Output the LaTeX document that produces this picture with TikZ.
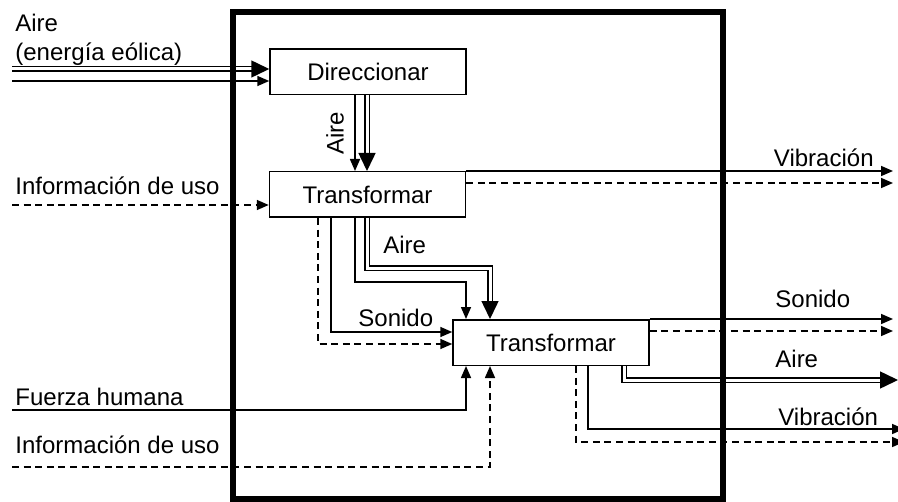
\documentclass[tikz,border=0pt]{standalone}
\usepackage{fontspec}
\setmainfont{Liberation Sans}
\usetikzlibrary{arrows.meta,calc}
\begin{document}
\begin{tikzpicture}[x=0.5pt,y=-0.5pt,
  font=\fontsize{12}{14.4}\selectfont,
  thin/.style={line width=0.8pt},
  dbl/.style={double, double distance=1.5pt, line width=0.75pt},
  tipS/.style={-{Triangle[length=6pt,width=5pt]}},
  tipB/.style={-{Triangle[length=9pt,width=8.5pt]}},
  dsh/.style={dash pattern=on 3.5pt off 2.3pt},
  proc/.style={draw, rectangle, line width=0.75pt, minimum width=98pt, minimum height=22.75pt, inner sep=0pt, fill=white},
  lbl/.style={inner sep=0pt, anchor=base west},
  frame/.style={line width=3pt}]
\useasboundingbox (0,0) rectangle (898,502);

% process boxes
\node[proc] (dir) at (368,72) {Direccionar};
\node[proc] (t1) at (367.5,194.5) {Transformar};
\node[proc] (t2) at (551,342.5) {Transformar};

% inputs to Direccionar
\coordinate (inA) at (12,69);
\coordinate (inB) at (12,81);
\draw[dbl,tipB] (inA) -- (inA -| dir.west);
\draw[thin,tipS] (inB) -- (inB -| dir.west);

% Direccionar -> Transformar 1
\coordinate (d1) at (355,95);
\coordinate (d2) at (367,95);
\draw[thin,tipS] (d1 |- dir.south) -- (d1 |- t1.north);
\draw[dbl,tipB] (d2 |- dir.south) -- (d2 |- t1.north);

% Transformar 1 outputs
\coordinate (vibE) at (893,172);
\coordinate (vibD) at (893,183);
\draw[thin,tipS] (t1.north east) -- (vibE |- t1.north east);
\draw[thin,dsh,tipS] (vibD -| t1.east) -- (vibD);

% information in
\coordinate (info1) at (12,205);
\draw[thin,dsh,tipS] (info1) -- (info1 -| t1.west);

% Transformar 1 -> Transformar 2
\coordinate (c1) at (318,344);
\coordinate (c2) at (331,332);
\coordinate (c3) at (355,282);
\coordinate (c3b) at (466,282);
\coordinate (c4) at (367,268);
\coordinate (c4b) at (490,268);
\draw[thin,dsh,tipS] (c1 |- t1.south) -- (c1) -- (c1 -| t2.west);
\draw[thin,tipS] (c2 |- t1.south) -- (c2) -- (c2 -| t2.west);
\draw[thin,tipS] (c3 |- t1.south) -- (c3) -- (c3b) -- (c3b |- t2.north);
\draw[dbl,tipB] (c4 |- t1.south) -- (c4) -- (c4b) -- (c4b |- t2.north);

% inputs below Transformar 2
\coordinate (f1) at (12,410);
\coordinate (f2) at (466,410);
\coordinate (g1) at (12,467);
\coordinate (g2) at (490,467);
\draw[thin,tipS] (f1) -- (f2) -- (f2 |- t2.south);
\draw[thin,dsh,tipS] (g1) -- (g2) -- (g2 |- t2.south);

% Transformar 2 outputs
\coordinate (sE) at (893,320);
\coordinate (sD) at (893,331);
\draw[thin,tipS] (t2.north east) -- (sE |- t2.north east);
\draw[thin,dsh,tipS] (sD -| t2.east) -- (sD);
\coordinate (a1) at (624,380);
\coordinate (a2) at (898,380);
\draw[dbl,tipB] (a1 |- t2.south) -- (a1) -- (a2);
\coordinate (v1) at (588,429);
\coordinate (v2) at (904,429);
\coordinate (v3) at (576,442);
\coordinate (v4) at (904,442);
\draw[thin,tipS] (v1 |- t2.south) -- (v1) -- (v2);
\draw[thin,dsh,tipS] (v3 |- t2.south) -- (v3) -- (v4);

% system boundary
\draw[frame] (233,12) rectangle (723,499);

% labels
\node[lbl] (lAire) at (15,32) {Aire};
\node[lbl] (lEol) at (15,61) {(energía eólica)};
\node[inner sep=0pt, rotate=90] (lAire2) at (335,133) {Aire};
\node[lbl] (lInfo1) at (15,195) {Información de uso};
\node[inner sep=0pt, anchor=base east] (lVib1) at (874,167) {Vibración};
\node[lbl] (lAire3) at (383,253) {Aire};
\node[lbl] (lSon1) at (358,326) {Sonido};
\node[lbl] (lSon2) at (775,307) {Sonido};
\node[lbl] (lAire4) at (775,367) {Aire};
\node[lbl] (lVib2) at (778,425) {Vibración};
\node[lbl] (lFuer) at (15,405) {Fuerza humana};
\node[lbl] (lInfo2) at (15,453) {Información de uso};
\end{tikzpicture}
\end{document}
